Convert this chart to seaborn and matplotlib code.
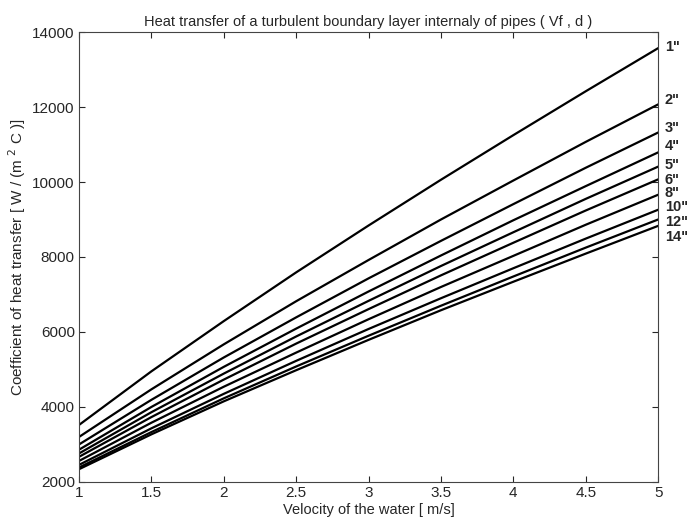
import matplotlib
matplotlib.use("Agg")
import matplotlib.pyplot as plt
import numpy as np
import pandas as pd
import seaborn as sns

# velocity of the water [m/s]
velocity = [1.0, 1.5, 2.0, 2.5, 3.0, 3.5, 4.0, 4.5, 5.0]

# heat transfer coefficient per pipe diameter
h_1in = [3520, 4950, 6290, 7590, 8840, 10060, 11250, 12420, 13570]
h_2in = [3200, 4470, 5670, 6820, 7920, 9000, 10040, 11070, 12070]
h_3in = [3000, 4190, 5320, 6390, 7430, 8430, 9410, 10380, 11320]
h_4in = [2860, 4000, 5070, 6090, 7080, 8040, 8980, 9890, 10790]
h_5in = [2760, 3860, 4890, 5880, 6830, 7760, 8660, 9550, 10410]
h_6in = [2670, 3730, 4730, 5690, 6610, 7510, 8380, 9240, 10070]
h_8in = [2560, 3580, 4540, 5450, 6340, 7200, 8030, 8860, 9660]
h_10in = [2455, 3430, 4350, 5230, 6080, 6900, 7700, 8490, 9260]
h_12in = [2385, 3330, 4230, 5080, 5900, 6700, 7480, 8250, 9000]
h_14in = [2340, 3270, 4150, 4980, 5790, 6580, 7340, 8090, 8830]

diameters = ['1"', '2"', '3"', '4"', '5"', '6"', '8"', '10"', '12"', '14"']
series = [h_1in, h_2in, h_3in, h_4in, h_5in, h_6in, h_8in, h_10in, h_12in, h_14in]
label_y = [13610, 12200, 11440, 10960, 10450, 10050, 9710, 9330, 8930, 8530]

rows = []
for d, vals in zip(diameters, series):
    for v, h in zip(velocity, vals):
        rows.append({"v": v, "h": h, "d": d})
df = pd.DataFrame(rows)

sns.set_style("ticks")
plt.rcParams['font.family'] = ['Liberation Sans', 'DejaVu Sans']

fig = plt.figure(figsize=(6.87, 5.25), dpi=100)
ax = fig.add_axes([0.115, 0.082, 0.843, 0.857])

sns.lineplot(data=df, x="v", y="h", hue="d", palette=["black"] * len(diameters),
             linewidth=1.6, legend=False, ax=ax)

for d, y in zip(diameters, label_y):
    ax.text(5.045, y, d, fontsize=10.5, fontweight="bold", va="center", ha="left",
            clip_on=False)

ax.set_xlim(1, 5)
ax.set_ylim(2000, 14000)
ax.set_xticks(np.arange(1, 5.01, 0.5))
ax.set_xticklabels(["1", "1.5", "2", "2.5", "3", "3.5", "4", "4.5", "5"])
ax.set_yticks(np.arange(2000, 14001, 2000))
ax.tick_params(direction="in", top=True, right=True, labelsize=11, length=4, width=0.8,
               pad=3)
for s in ax.spines.values():
    s.set_visible(True)
    s.set_linewidth(0.8)
    s.set_color("#444444")
ax.spines["top"].set_linestyle((0, (3, 1)))
ax.spines["right"].set_linestyle((0, (3, 1)))

ax.set_xlabel("Velocity of the water [ m/s]", fontsize=10.5, labelpad=2)
ax.set_ylabel("Coefficient of heat transfer [ W / (m $^2$ C )]", fontsize=11, labelpad=3)
ax.set_title("Heat transfer of a turbulent boundary layer internaly of pipes ( Vf , d )",
             fontsize=10.5, pad=4)

fig.savefig("out.png", dpi=100)
